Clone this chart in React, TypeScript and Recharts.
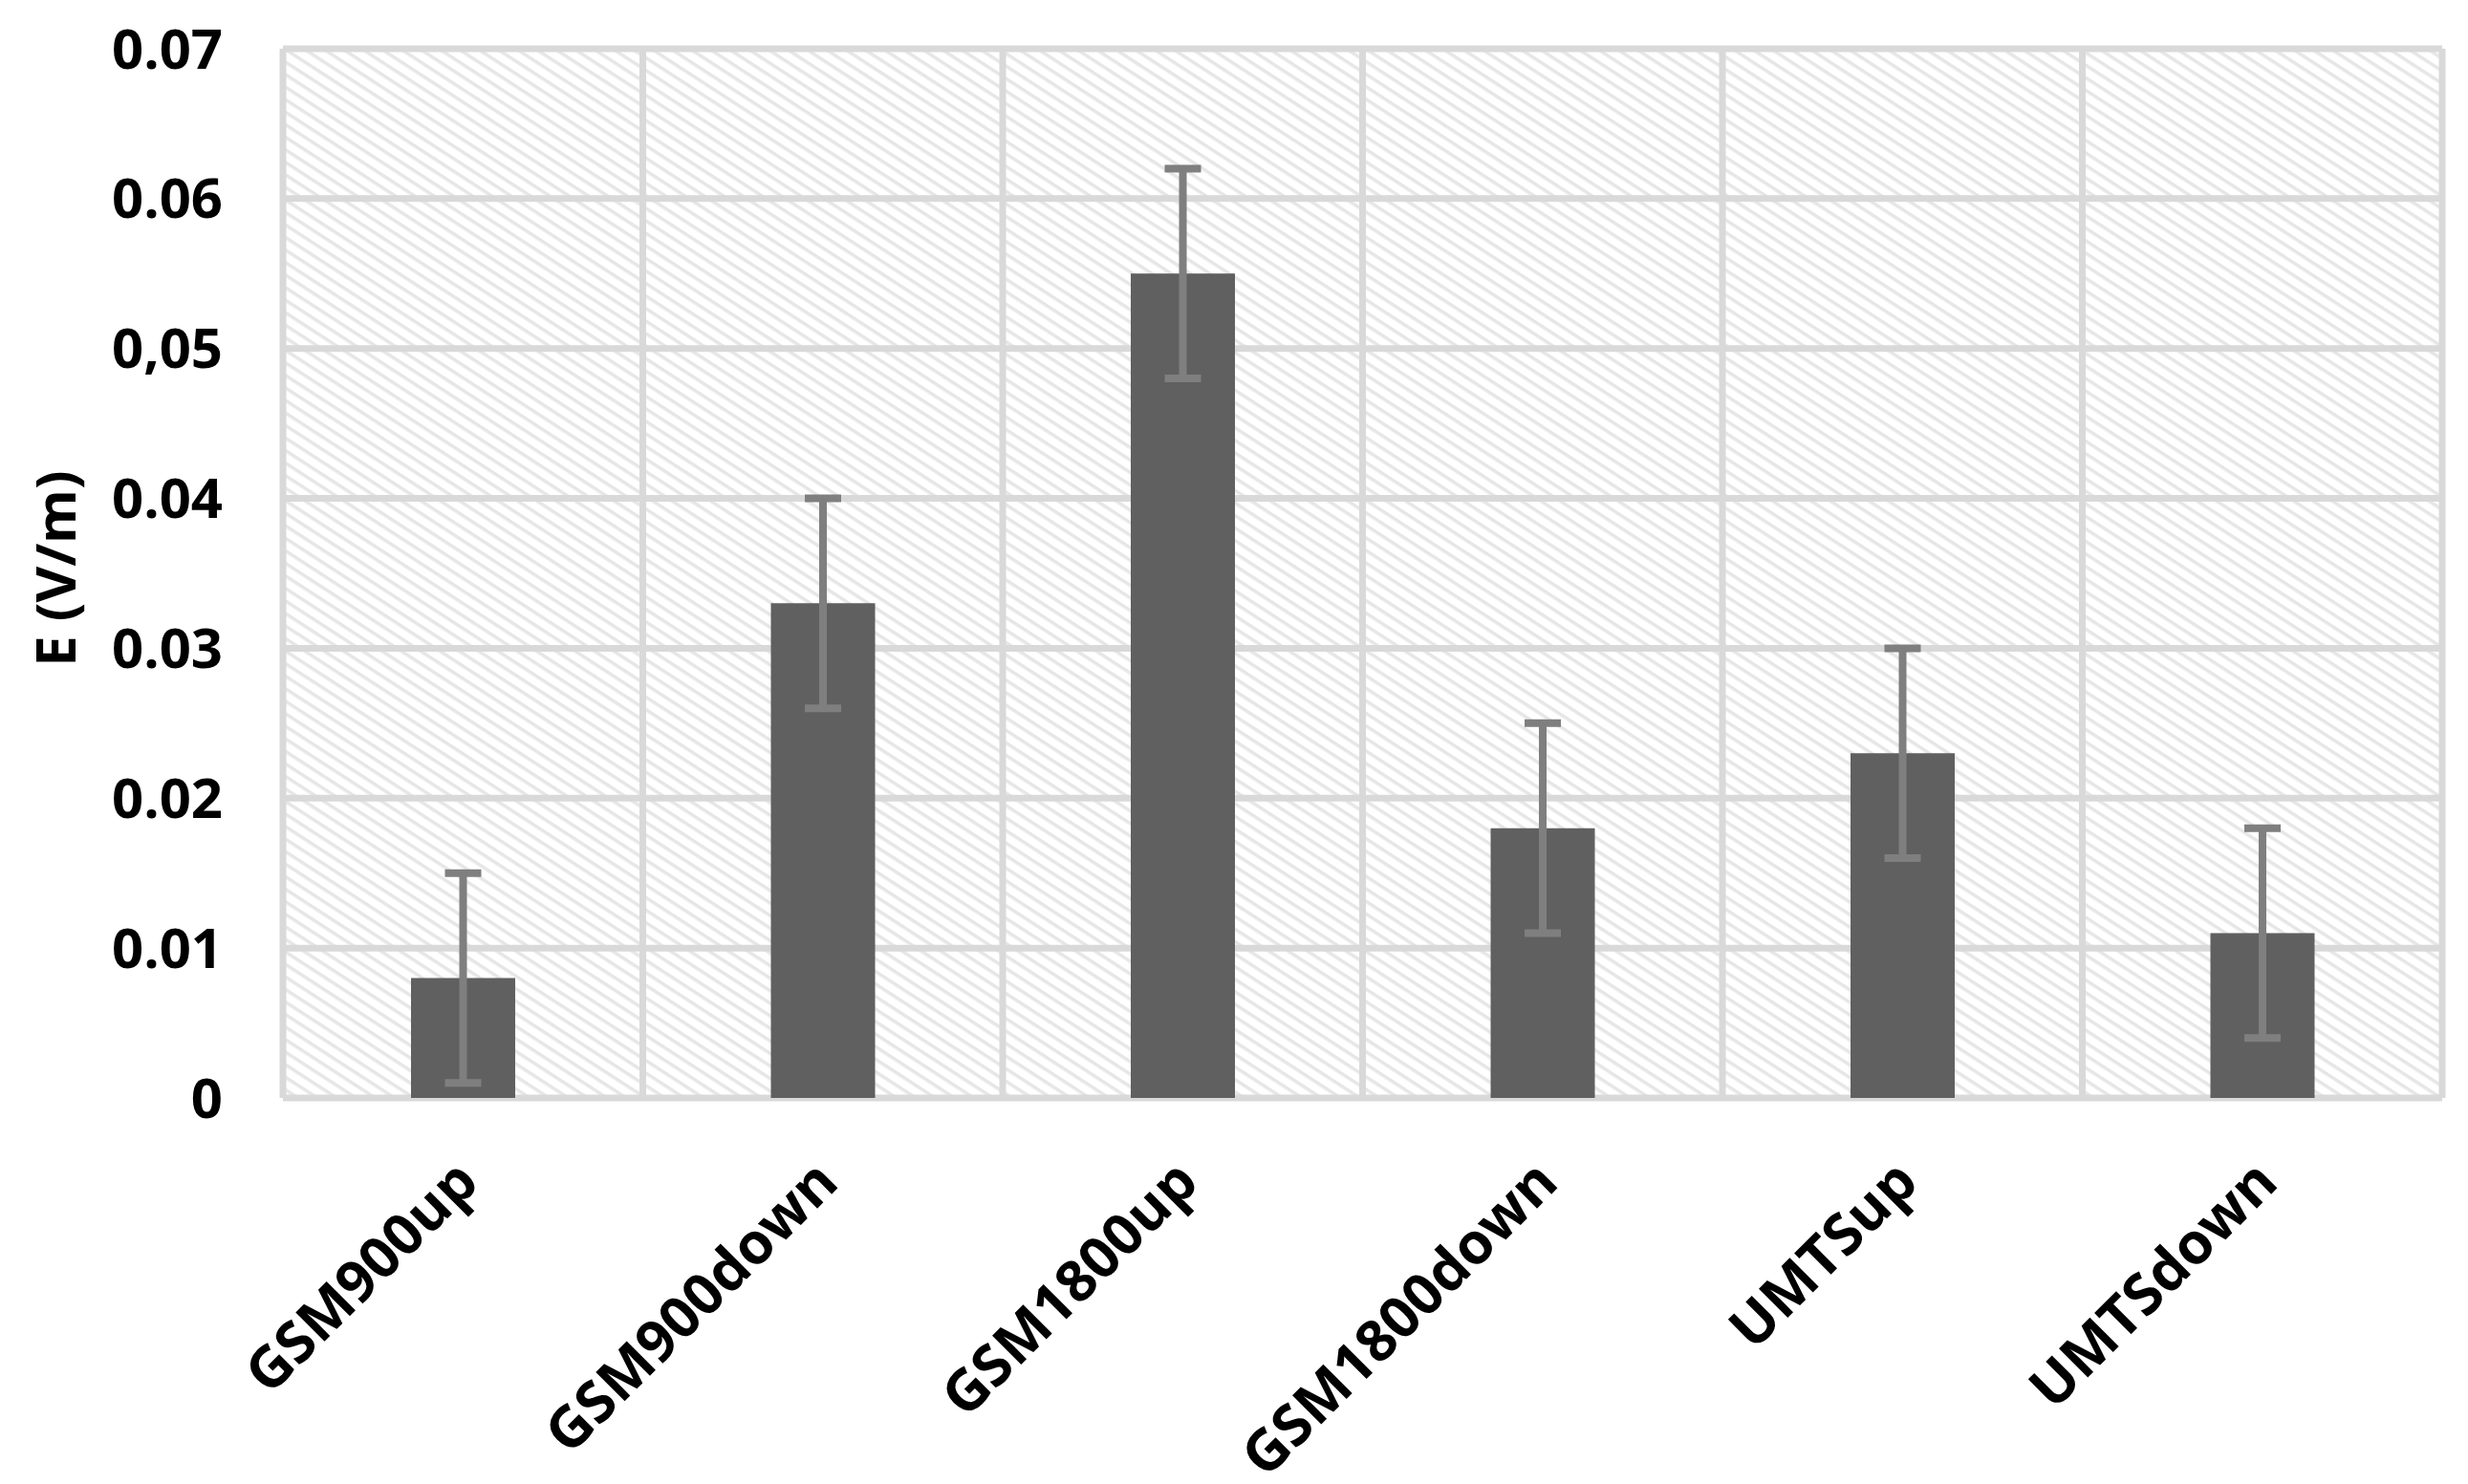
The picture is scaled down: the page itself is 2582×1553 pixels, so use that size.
import { Bar, BarChart, CartesianGrid, ErrorBar, Label, XAxis, YAxis } from "recharts";

const categories = ["GSM900up", "GSM900down", "GSM1800up", "GSM1800down", "UMTSup", "UMTSdown"];
const fieldValues = [0.008, 0.033, 0.055, 0.018, 0.023, 0.011];
const fieldErrors = [0.007, 0.007, 0.007, 0.007, 0.007, 0.007];
const yTicks = [0, 0.01, 0.02, 0.03, 0.04, 0.05, 0.06, 0.07];
const yTickLabels = ["0", "0.01", "0.02", "0.03", "0.04", "0,05", "0.06", "0.07"];

const FONT = "'Open Sans', 'DejaVu Sans', sans-serif";

const chartData = categories.map((name, i) => ({
  name,
  value: fieldValues[i],
  err: fieldErrors[i],
}));

function AngledTick({ x, y, payload }: any) {
  return (
    <g transform={`translate(${x + 19},${y + 91})`}>
      <text
        textAnchor="end"
        transform="rotate(-45)"
        fontFamily={FONT}
        fontWeight={700}
        fontSize={60}
        fill="#000"
      >
        {payload.value}
      </text>
    </g>
  );
}

export default function App() {
  return (
    <div style={{ position: "absolute", left: 0, top: 0, width: 2582, height: 1553, background: "#fff" }}>
      <BarChart
        width={2582}
        height={1553}
        data={chartData}
        margin={{ top: 51, right: 27, bottom: 0, left: 0 }}
      >
        <defs>
          <pattern
            id="hatch"
            patternUnits="userSpaceOnUse"
            width="11"
            height="11"
            patternTransform="rotate(33)"
          >
            <rect width="11" height="11" fill="#fff" />
            <rect width="11" height="3.5" fill="#e6e6e6" />
          </pattern>
        </defs>

        <CartesianGrid
          stroke="#d9d9d9"
          strokeWidth={7}
          fill="url(#hatch)"
          fillOpacity={1}
          verticalCoordinatesGenerator={({ offset }: any) =>
            Array.from({ length: categories.length + 1 }, (_, i) => offset.left + (i * offset.width) / categories.length)
          }
        />

        <XAxis
          dataKey="name"
          interval={0}
          tick={<AngledTick />}
          tickLine={false}
          axisLine={false}
          tickSize={0}
          tickMargin={0}
          height={404}
        />

        <YAxis
          domain={[0, 0.07]}
          ticks={yTicks}
          tickFormatter={(v: number) => yTickLabels[yTicks.indexOf(v)] ?? String(v)}
          axisLine={false}
          tickLine={false}
          tickSize={0}
          tickMargin={63}
          width={296}
          tick={{ fontFamily: FONT, fontWeight: 700, fontSize: 58, fill: "#000" }}
        >
          <Label
            content={({ viewBox }: any) => {
              const cx = 56;
              const cy = viewBox.y + viewBox.height / 2 - 5;
              return (
                <text
                  x={cx}
                  y={cy}
                  transform={`rotate(-90 ${cx} ${cy})`}
                  textAnchor="middle"
                  dominantBaseline="central"
                  fontFamily={FONT}
                  fontWeight={700}
                  fontSize={58}
                  fill="#000"
                >
                  E (V/m)
                </text>
              );
            }}
          />
        </YAxis>

        <Bar dataKey="value" fill="#606060" barSize={109} isAnimationActive={false}>
          <ErrorBar dataKey="err" width={19} strokeWidth={8} stroke="#7f7f7f" isAnimationActive={false} />
        </Bar>
      </BarChart>
    </div>
  );
}
